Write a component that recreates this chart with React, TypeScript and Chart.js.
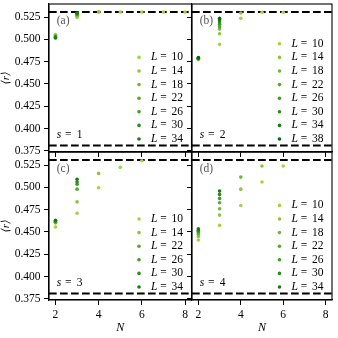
import React, { useEffect, useRef } from "react";
import { Chart, registerables } from "chart.js";
Chart.register(...registerables);

// ---------------- data ----------------
const N_VALUES = [2, 3, 4, 5, 6, 7, 8];
const N_TICKS = [2, 4, 6, 8];
const R_TICKS = [0.375, 0.4, 0.425, 0.45, 0.475, 0.5, 0.525];
const X_MIN = 1.7;
const X_MAX = 8.3;
const Y_MIN = 0.3738;
const Y_MAX = 0.5396;
const R_GOE = 0.5307;
const R_LOW = 0.381;

// panel (a), s = 1 : rows = L, columns = N_VALUES
const L_A = [10, 14, 18, 22, 26, 30, 34];
const R_A = [
  [0.5055, 0.5245, 0.5305, 0.5305, 0.5305, 0.5305, 0.5305],
  [0.5045, 0.526, 0.5308, null, null, null, null],
  [0.504, 0.527, null, null, null, null, null],
  [0.503, 0.528, null, null, null, null, null],
  [0.5025, 0.5285, null, null, null, null, null],
  [0.502, 0.529, null, null, null, null, null],
  [0.5015, 0.5295, null, null, null, null, null],
];

// panel (b), s = 2
const L_B = [10, 14, 18, 22, 26, 30, 34, 38];
const R_B = [
  [0.4775, 0.4944, 0.5235, 0.5303, 0.5303, null, null],
  [0.478, 0.5063, 0.5295, null, null, null, null],
  [0.478, 0.5116, null, null, null, null, null],
  [0.4785, 0.5141, null, null, null, null, null],
  [0.4785, 0.5168, null, null, null, null, null],
  [0.479, 0.5194, null, null, null, null, null],
  [0.479, 0.5216, null, null, null, null, null],
  [0.4795, 0.5235, null, null, null, null, null],
];

// panel (c), s = 3
const L_C = [10, 14, 22, 26, 30, 34];
const R_C = [
  [0.4555, 0.471, 0.4995, 0.5224, 0.5298, null, null],
  [0.46, 0.4837, 0.5156, null, null, null, null],
  [0.461, 0.498, null, null, null, null, null],
  [0.462, 0.5035, null, null, null, null, null],
  [0.4625, 0.506, null, null, null, null, null],
  [0.463, 0.509, null, null, null, null, null],
];

// panel (d), s = 4
const L_D = [10, 14, 18, 22, 26, 30, 34];
const R_D = [
  [0.441, 0.4574, 0.4796, 0.506, 0.524, null, null],
  [0.445, 0.4689, 0.498, 0.524, null, null, null],
  [0.4475, 0.476, 0.5115, null, null, null, null],
  [0.449, 0.4828, null, null, null, null, null],
  [0.4505, 0.4876, null, null, null, null, null],
  [0.452, 0.4921, null, null, null, null, null],
  [0.4535, 0.4959, null, null, null, null, null],
];

const PANEL_LETTERS = ["(a)", "(b)", "(c)", "(d)"];
const PANEL_S = [1, 2, 3, 4];

// ---------------- styles ----------------
const L_COLORS: Record<number, string> = {
  10: "#a5d146",
  14: "#8cc43e",
  18: "#72b736",
  22: "#58a82d",
  26: "#409a25",
  30: "#2a8a1c",
  34: "#177a13",
  38: "#06690b",
};
const FONT = "'Liberation Serif', 'DejaVu Serif', serif";
const FS = 11.5;
const POINT_R = 1.8;

// layout: chart area rectangles on the 338x338 page
const AREAS = [
  { left: 49, top: 4, right: 191.5, bottom: 152 },
  { left: 192, top: 4, right: 332, bottom: 152 },
  { left: 49, top: 152, right: 191.5, bottom: 300 },
  { left: 192, top: 152, right: 332, bottom: 300 },
];
const SIZE = 338;

type PanelCfg = {
  idx: number;
  Ls: number[];
  R: (number | null)[][];
};

const PANELS: PanelCfg[] = [
  { idx: 0, Ls: L_A, R: R_A },
  { idx: 1, Ls: L_B, R: R_B },
  { idx: 2, Ls: L_C, R: R_C },
  { idx: 3, Ls: L_D, R: R_D },
];

function makeDecor(cfg: PanelCfg) {
  return {
    id: "decor" + cfg.idx,
    afterDatasetsDraw(chart: any) {
      const { ctx, chartArea } = chart;
      const { left, right, top, bottom } = chartArea;
      ctx.save();
      // frame
      ctx.strokeStyle = "#000";
      ctx.lineWidth = 1.1;
      ctx.strokeRect(left, top, right - left, bottom - top);

      ctx.textBaseline = "middle";
      ctx.textAlign = "left";
      // panel letter
      ctx.fillStyle = "#555";
      ctx.font = `${FS}px ${FONT}`;
      ctx.fillText(PANEL_LETTERS[cfg.idx], left + 7.7, top + 17);
      // s = k
      ctx.fillStyle = "#000";
      const x0 = left + 7.7;
      const ys = bottom - 17;
      ctx.font = `italic ${FS}px ${FONT}`;
      ctx.fillText("s", x0, ys);
      ctx.font = `${FS}px ${FONT}`;
      ctx.fillText("=", x0 + 8.3, ys);
      ctx.fillText(String(PANEL_S[cfg.idx]), x0 + 20, ys);

      // legend
      const n = cfg.Ls.length;
      cfg.Ls.forEach((L, i) => {
        const y = bottom - 13 - (n - 1 - i) * 13.6;
        ctx.fillStyle = L_COLORS[L];
        ctx.beginPath();
        ctx.arc(right - 52.5, y, POINT_R, 0, Math.PI * 2);
        ctx.fill();
        ctx.fillStyle = "#000";
        ctx.font = `italic ${FS}px ${FONT}`;
        ctx.fillText("L", right - 40.5, y);
        ctx.font = `${FS}px ${FONT}`;
        ctx.fillText("=", right - 31.2, y);
        ctx.fillText(String(L), right - 20, y);
      });
      ctx.restore();
    },
  };
}

function Panel({ cfg }: { cfg: PanelCfg }) {
  const ref = useRef<HTMLCanvasElement | null>(null);
  useEffect(() => {
    const area = AREAS[cfg.idx];
    const isLeft = cfg.idx % 2 === 0;
    const isBottom = cfg.idx >= 2;
    const yw = isLeft ? area.left : 6;
    const xh = isBottom ? SIZE - area.bottom : 6;
    const padding = {
      left: area.left - yw,
      top: area.top,
      right: SIZE - area.right,
      bottom: SIZE - area.bottom - xh,
    };

    const scatterSets = cfg.Ls.map((L, i) => ({
      type: "scatter" as const,
      label: "L = " + L,
      data: N_VALUES.map((N, j) => ({ x: N, y: cfg.R[i][j] })).filter(
        (p) => p.y !== null
      ),
      backgroundColor: L_COLORS[L],
      borderWidth: 0,
      pointRadius: POINT_R,
      pointHoverRadius: POINT_R,
      order: -i,
    }));
    const dashSets = [R_GOE, R_LOW].map((r) => ({
      type: "line" as const,
      label: "ref",
      data: [
        { x: X_MIN, y: r },
        { x: X_MAX, y: r },
      ],
      borderColor: "#000",
      borderWidth: 2,
      borderDash: [7.7, 3.3],
      pointRadius: 0,
      order: 100,
    }));

    const zeroPad = (s: any) => {
      s.paddingLeft = 0;
      s.paddingRight = 0;
      s.paddingTop = 0;
      s.paddingBottom = 0;
    };

    const chart = new Chart(ref.current as HTMLCanvasElement, {
      type: "scatter",
      data: { datasets: [...dashSets, ...scatterSets] as any },
      options: {
        animation: false,
        responsive: false,
        events: [],
        layout: { padding },
        plugins: {
          legend: { display: false },
          tooltip: { enabled: false },
        },
        scales: {
          x: {
            type: "linear",
            position: "bottom",
            min: X_MIN,
            max: X_MAX,
            afterBuildTicks: (s: any) => {
              s.ticks = N_TICKS.map((v) => ({ value: v }));
            },
            afterFit: (s: any) => {
              s.height = xh;
              zeroPad(s);
            },
            grid: {
              display: true,
              drawOnChartArea: false,
              drawTicks: true,
              tickLength: 5,
              color: "#000",
              lineWidth: 1,
            },
            border: { display: true, color: "#000", width: 1.1 },
            ticks: {
              display: isBottom,
              color: "#000",
              font: { family: FONT, size: FS },
              padding: 3,
              maxRotation: 0,
              autoSkip: false,
              callback: (v: any) => String(v),
            },
            title: {
              display: isBottom,
              text: "N",
              color: "#000",
              font: { family: FONT, size: 12, style: "italic" },
              padding: { top: 0, bottom: 3.4 },
            },
          },
          y: {
            type: "linear",
            position: "left",
            min: Y_MIN,
            max: Y_MAX,
            afterBuildTicks: (s: any) => {
              s.ticks = R_TICKS.map((v) => ({ value: v }));
            },
            afterFit: (s: any) => {
              s.width = yw;
              zeroPad(s);
            },
            grid: {
              display: true,
              drawOnChartArea: false,
              drawTicks: true,
              tickLength: 5,
              color: "#000",
              lineWidth: 1,
            },
            border: { display: true, color: "#000", width: 1.1 },
            ticks: {
              display: isLeft,
              color: "#000",
              font: { family: FONT, size: FS },
              padding: 3.5,
              autoSkip: false,
              callback: (v: any) => Number(v).toFixed(3),
            },
            title: {
              display: isLeft,
              text: "⟨r⟩",
              color: "#000",
              font: { family: FONT, size: 11, style: "italic" },
              padding: { top: 0, bottom: 0 },
            },
          },
        },
      } as any,
      plugins: [makeDecor(cfg)],
    });
    return () => chart.destroy();
  }, [cfg]);
  return (
    <canvas
      ref={ref}
      width={SIZE}
      height={SIZE}
      style={{ position: "absolute", left: 0, top: 0 }}
    />
  );
}

export default function App() {
  return (
    <div
      style={{
        position: "absolute",
        left: 0,
        top: 0,
        width: SIZE,
        height: SIZE,
        background: "#fff",
      }}
    >
      {PANELS.map((p) => (
        <Panel key={p.idx} cfg={p} />
      ))}
    </div>
  );
}
